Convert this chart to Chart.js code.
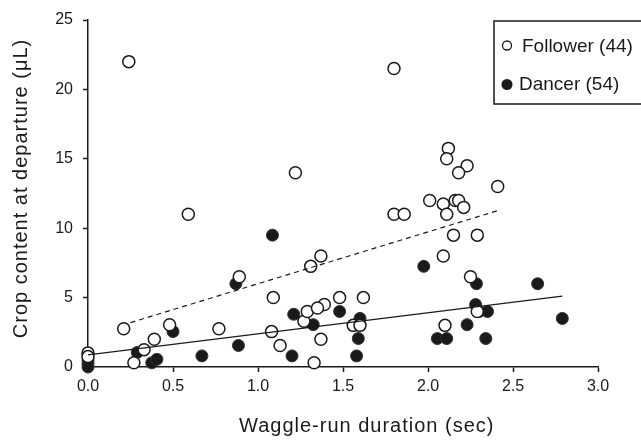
<!DOCTYPE html>
<html>
<head>
<meta charset="utf-8">
<script src="https://cdn.jsdelivr.net/npm/chart.js@4.4.0/dist/chart.umd.min.js"></script>
<style>
  body { margin: 0; background: #fff; }
</style>
</head>
<body>
<canvas id="chart" width="641" height="440"></canvas>
<script>
// values
const followerX = [0, 0, 0.24, 1.80, 0.21, 1.22, 0.59, 0.89, 1.09, 0.77, 0.48, 0.39, 0.33, 0.27, 1.08, 1.13,
  1.27, 1.29, 1.31, 1.33, 2.12, 2.11, 2.23, 2.18, 2.41, 2.01, 2.09, 2.16, 2.18, 2.21, 2.11, 1.80, 1.86,
  2.15, 2.29, 2.09, 1.37, 2.25, 1.48, 1.62, 1.39, 1.35, 1.56, 1.60, 2.10, 2.29, 1.37];
const followerY = [1.0, 0.75, 22.0, 21.5, 2.75, 14.0, 11.0, 6.5, 5.0, 2.75, 3.05, 2.0, 1.25, 0.3, 2.55, 1.55,
  3.3, 4.0, 7.25, 0.3, 15.75, 15.0, 14.5, 14.0, 13.0, 12.0, 11.75, 12.0, 12.0, 11.5, 11.0, 11.0, 11.0,
  9.5, 9.5, 8.0, 8.0, 6.5, 5.0, 5.0, 4.5, 4.25, 3.0, 3.0, 3.0, 4.0, 2.0];
const dancerX = [0, 0, 0, 1.085, 0.87, 0.50, 0.29, 0.375, 0.405, 0.67, 0.885, 1.21, 1.20, 1.975, 2.285,
  2.645, 2.28, 2.30, 2.35, 2.79, 1.48, 1.60, 1.325, 2.23, 1.59, 2.055, 2.11, 2.34, 1.58];
const dancerY = [0.5, 0.25, 0, 9.5, 6.0, 2.55, 1.05, 0.3, 0.55, 0.8, 1.55, 3.8, 0.8, 7.25, 6.0,
  6.0, 4.5, 4.0, 4.0, 3.5, 4.0, 3.5, 3.05, 3.05, 2.05, 2.05, 2.05, 2.05, 0.8];

// regression lines (end points)
const followerFitX = [0.25, 2.42];
const followerFitY = [3.2, 11.3];
const dancerFitX = [0, 2.79];
const dancerFitY = [0.88, 5.1];

const xTicks = [0, 0.5, 1, 1.5, 2, 2.5, 3];
const yTicks = [0, 5, 10, 15, 20, 25];
const xTitle = "Waggle-run duration (sec)";
const yTitle = "Crop content at departure (μL)";
const legendLabels = ["Follower (44)", "Dancer (54)"];

const toPoints = (xs, ys) => xs.map((x, i) => ({ x: x, y: ys[i] }));
const FONT = "'Liberation Sans', Arial, sans-serif";

// axis titles + legend box
const annotations = {
  id: "annotations",
  afterDraw(chart) {
    const ctx = chart.ctx;
    const { top, bottom } = chart.chartArea;
    ctx.save();
    ctx.fillStyle = "#1a1a1a";
    ctx.letterSpacing = "1px";
    ctx.font = "20px " + FONT;
    ctx.textBaseline = "alphabetic";
    ctx.textAlign = "left";
    ctx.fillText(xTitle, 239, 432);

    ctx.save();
    ctx.translate(27, (top + bottom) / 2 - 5);
    ctx.rotate(-Math.PI / 2);
    ctx.textAlign = "center";
    ctx.fillText(yTitle, 0, 0);
    ctx.restore();

    ctx.letterSpacing = "0px";
    ctx.strokeStyle = "#1a1a1a";
    ctx.lineWidth = 1.5;
    ctx.strokeRect(494, 21, 160, 83);

    ctx.font = "19px " + FONT;
    ctx.beginPath();
    ctx.arc(507, 45.5, 4.5, 0, Math.PI * 2);
    ctx.fillStyle = "#fff";
    ctx.fill();
    ctx.lineWidth = 1.3;
    ctx.stroke();
    ctx.fillStyle = "#1a1a1a";
    ctx.fillText(legendLabels[0], 522, 51.5);

    ctx.beginPath();
    ctx.arc(507, 84.5, 5.5, 0, Math.PI * 2);
    ctx.fill();
    ctx.fillText(legendLabels[1], 519, 90);
    ctx.restore();
  },
};

const axisStyle = {
  border: { display: true, color: "#1a1a1a", width: 1.5 },
  grid: { display: true, drawOnChartArea: false, drawTicks: true, tickLength: 5, color: "#1a1a1a", tickWidth: 1.5 },
};

new Chart(document.getElementById("chart"), {
  type: "scatter",
  data: {
    datasets: [
      {
        label: legendLabels[0],
        data: toPoints(followerX, followerY),
        pointRadius: 6,
        pointBackgroundColor: "#ffffff",
        pointBorderColor: "#1a1a1a",
        pointBorderWidth: 1.5,
        clip: false,
        order: 1,
      },
      {
        label: legendLabels[1],
        data: toPoints(dancerX, dancerY),
        pointRadius: 6,
        pointBackgroundColor: "#1a1a1a",
        pointBorderColor: "#333",
        pointBorderWidth: 1,
        clip: false,
        order: 2,
      },
      {
        type: "line",
        data: toPoints(followerFitX, followerFitY),
        borderColor: "#1a1a1a",
        borderWidth: 1.2,
        borderDash: [5, 4],
        pointRadius: 0,
        fill: false,
        order: 0,
      },
      {
        type: "line",
        data: toPoints(dancerFitX, dancerFitY),
        borderColor: "#1a1a1a",
        borderWidth: 1.2,
        pointRadius: 0,
        fill: false,
        order: 0,
      },
    ],
  },
  options: {
    responsive: false,
    animation: false,
    layout: { padding: { left: 0, top: 20, right: 43, bottom: 0 } },
    plugins: {
      legend: { display: false },
      tooltip: { enabled: false },
    },
    scales: {
      x: {
        type: "linear",
        min: 0,
        max: 3,
        ...axisStyle,
        afterBuildTicks: (scale) => {
          scale.ticks = xTicks.map((v) => ({ value: v }));
        },
        afterFit: (scale) => {
          scale.height = 73;
        },
        ticks: {
          color: "#1a1a1a",
          padding: 5,
          font: { family: FONT, size: 16 },
          callback: (v) => Number(v).toFixed(1),
        },
      },
      y: {
        type: "linear",
        min: 0,
        max: 25,
        ...axisStyle,
        afterBuildTicks: (scale) => {
          scale.ticks = yTicks.map((v) => ({ value: v }));
        },
        afterFit: (scale) => {
          scale.width = 88;
        },
        ticks: {
          color: "#1a1a1a",
          padding: 10,
          font: { family: FONT, size: 16 },
        },
      },
    },
  },
  plugins: [annotations],
});
</script>
</body>
</html>
